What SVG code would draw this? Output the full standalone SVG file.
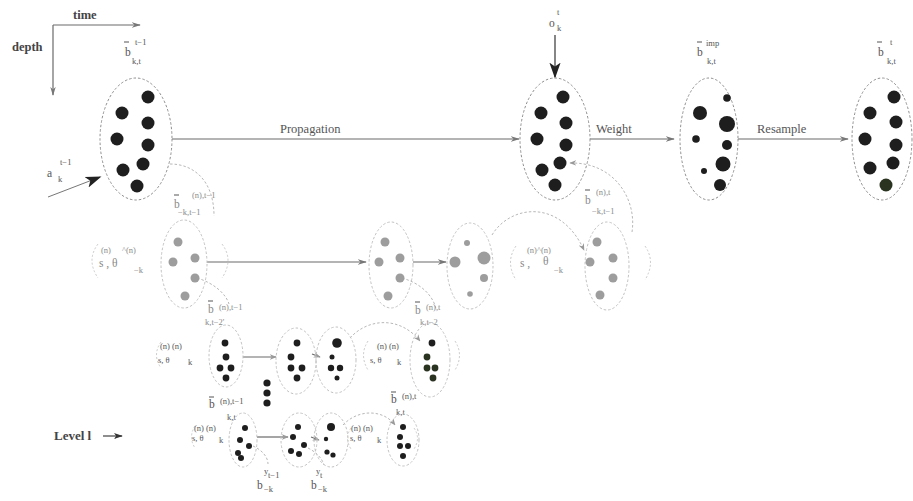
<svg xmlns="http://www.w3.org/2000/svg" width="913" height="501" viewBox="0 0 913 501">
  <defs>
    <style>
      text { font-family: "Liberation Serif", "DejaVu Serif", serif; fill: #555; }
      .lbl { font-size: 12.5px; fill: #555; }
      .sym { font-size: 11.5px; fill: #555; }
      .hi { font-size: 8.5px; fill: #555; }
      .lo { font-size: 8.5px; fill: #555; }
      .bold { font-weight: bold; fill: #444; }
      text.lite { fill: #8a8a8a; }
      .ell { fill: none; stroke: #8f8f8f; stroke-width: 1; stroke-dasharray: 2.5 2; }
      .ell2 { fill: none; stroke: #c2c2c2; stroke-width: 1; stroke-dasharray: 2.5 2; }
      .dot { fill: #1e1e1e; }
      .gdot { fill: #9d9d9d; }
      .gn { fill: #2a3320; }
      .ln { stroke: #6a6a6a; stroke-width: 1.2; fill: none; }
      .arc { stroke: #b8b8b8; stroke-width: 1; fill: none; stroke-dasharray: 2.5 2; }
      .brk { stroke: #cacaca; stroke-width: 1; fill: none; stroke-dasharray: 2 2; }
      .bar { stroke: #555; stroke-width: 1; }
    </style>
    <marker id="arr" viewBox="0 0 10 10" refX="9" refY="5" markerWidth="9" markerHeight="9" orient="auto" markerUnits="userSpaceOnUse">
      <path d="M0,2 L10,5 L0,8 L3,5 Z" fill="#777"/>
    </marker>
    <marker id="arrs" viewBox="0 0 10 10" refX="9" refY="5" markerWidth="7" markerHeight="7" orient="auto" markerUnits="userSpaceOnUse">
      <path d="M0,1 L10,5 L0,9 L3,5 Z" fill="#999"/>
    </marker>
    <marker id="big" viewBox="0 0 10 10" refX="9" refY="5" markerWidth="16" markerHeight="16" orient="auto" markerUnits="userSpaceOnUse">
      <path d="M0,1.5 L10,5 L0,8.5 L2.5,5 Z" fill="#222"/>
    </marker>
    <marker id="mid" viewBox="0 0 10 10" refX="9" refY="5" markerWidth="9" markerHeight="9" orient="auto" markerUnits="userSpaceOnUse">
      <path d="M0,1.5 L10,5 L0,8.5 L2.5,5 Z" fill="#333"/>
    </marker>
  </defs>
  <rect width="913" height="501" fill="#ffffff"/>

  <!-- axes -->
  <g id="axes">
    <path class="ln" d="M53,25 L140,25" marker-end="url(#arr)"/>
    <path class="ln" d="M53,25 L53,95" marker-end="url(#arr)"/>
    <text class="lbl bold" x="73" y="19">time</text>
    <text class="lbl bold" x="12" y="51">depth</text>
  </g>

  <!-- connectors -->
  <g id="connectors">
    <path class="ln" d="M172,139 L519,139" marker-end="url(#arr)"/>
    <path class="ln" d="M590,139 L674,139" marker-end="url(#arr)"/>
    <path class="ln" d="M738,139 L848,139" marker-end="url(#arr)"/>
    <path d="M555,35 L555,77" stroke="#444" stroke-width="1.3" marker-end="url(#big)"/>
    <path d="M48,197 L100,177" stroke="#777" stroke-width="1" marker-end="url(#big)"/>
    <path class="ln" d="M207,262 L366,262" marker-end="url(#arr)"/>
    <path class="ln" d="M413,262 L446,262" marker-end="url(#arr)"/>
    <path class="ln" d="M243,357 L276,357" marker-end="url(#arrs)"/>
    <path class="ln" d="M312,354 L320,357" marker-end="url(#arrs)"/>
    <path class="ln" d="M257,437 L288,437" marker-end="url(#arrs)"/>
    <path class="ln" d="M311,437 L319,440" marker-end="url(#arrs)"/>
    <!-- depth links -->
    <path class="arc" d="M170,164 C195,164 214,182 214,216"/>
    <path class="arc" d="M632,232 C637,200 615,162 570,163" marker-end="url(#arrs)"/>
    <path class="arc" d="M492,235 C510,205 560,198 584,250" marker-end="url(#arrs)"/>
    <path class="arc" d="M197,278 C214,283 226,294 229,304"/>
    <path class="arc" d="M402,278 C420,283 433,295 436,309"/>
    <path class="arc" d="M350,338 C368,318 400,316 420,341" marker-end="url(#arrs)"/>
    <path class="arc" d="M343,425 C358,409 383,409 395,425" marker-end="url(#arrs)"/>
    <path class="arc" d="M253,446 C262,450 268,457 268,464"/>
    <path class="arc" d="M308,448 C316,452 322,458 324,465"/>
  </g>

  <!-- top level -->
  <g id="n_prev">
    <ellipse class="ell" cx="136" cy="139" rx="36" ry="61"/>
    <circle class="dot" cx="148" cy="97" r="6.5"/>
    <circle class="dot" cx="122" cy="113" r="6.5"/>
    <circle class="dot" cx="148" cy="123" r="6.5"/>
    <circle class="dot" cx="117" cy="139" r="6.5"/>
    <circle class="dot" cx="148" cy="145" r="6.5"/>
    <circle class="dot" cx="123" cy="170" r="6.5"/>
    <circle class="dot" cx="143" cy="164" r="6.5"/>
    <circle class="dot" cx="137" cy="186" r="6.5"/>
    <line class="bar" x1="124" y1="42" x2="129" y2="42"/>
    <text class="sym" x="125" y="56">b</text>
    <text class="hi" x="135" y="45">t−1</text>
    <text class="lo" x="132" y="64">k,t</text>
    <text class="hi" x="60" y="165">t−1</text>
    <text class="sym" x="47" y="177">a</text>
    <text class="lo" x="58" y="182">k</text>
  </g>

  <g id="n_pred">
    <ellipse class="ell" cx="555" cy="139" rx="35" ry="61"/>
    <circle class="dot" cx="563" cy="97" r="6.5"/>
    <circle class="dot" cx="541" cy="113" r="6.5"/>
    <circle class="dot" cx="566" cy="123" r="6.5"/>
    <circle class="dot" cx="537" cy="139" r="6.5"/>
    <circle class="dot" cx="566" cy="145" r="6.5"/>
    <circle class="dot" cx="542" cy="170" r="6.5"/>
    <circle class="dot" cx="560" cy="163" r="6.5"/>
    <circle class="dot" cx="555" cy="185" r="6.5"/>
    <text class="hi" x="557" y="15">t</text>
    <text class="sym" x="549" y="27">o</text>
    <text class="lo" x="557" y="31">k</text>
    <text class="lbl" x="280" y="133">Propagation</text>
    <text class="lbl" x="596" y="133">Weight</text>
  </g>

  <g id="n_imp">
    <ellipse class="ell" cx="709" cy="139" rx="29" ry="61"/>
    <circle class="dot" cx="727" cy="98" r="3.8"/>
    <circle class="dot" cx="700" cy="113" r="7"/>
    <circle class="dot" cx="727" cy="124" r="8"/>
    <circle class="dot" cx="696" cy="139" r="3.8"/>
    <circle class="dot" cx="727" cy="145" r="5"/>
    <circle class="dot" cx="723" cy="164" r="7.5"/>
    <circle class="dot" cx="704" cy="171" r="3"/>
    <circle class="dot" cx="720" cy="185" r="6"/>
    <line class="bar" x1="697" y1="42" x2="702" y2="42"/>
    <text class="sym" x="697" y="56">b</text>
    <text class="hi" x="706" y="46">imp</text>
    <text class="lo" x="707" y="64">k,t</text>
    <text class="lbl" x="757" y="133">Resample</text>
  </g>

  <g id="n_post">
    <ellipse class="ell" cx="882" cy="139" rx="30" ry="61"/>
    <circle class="dot" cx="894" cy="97" r="6.5"/>
    <circle class="dot" cx="870" cy="113" r="6.5"/>
    <circle class="dot" cx="896" cy="122" r="6.5"/>
    <circle class="dot" cx="865" cy="139" r="6.5"/>
    <circle class="dot" cx="896" cy="145" r="6.5"/>
    <circle class="dot" cx="870" cy="168" r="6.5"/>
    <circle class="dot" cx="893" cy="163" r="6.5"/>
    <circle class="gn" cx="886" cy="185" r="6.5"/>
    <line class="bar" x1="877" y1="42" x2="882" y2="42"/>
    <text class="sym" x="878" y="56">b</text>
    <text class="hi" x="890" y="45">t</text>
    <text class="lo" x="887" y="64">k,t</text>
  </g>

  <!-- second level: beliefs about the other agents -->
  <g id="n_l1a">
    <path class="brk" d="M98,244 Q86,260 98,278"/>
    <path class="brk" d="M222,244 Q234,260 222,278"/>
    <text class="hi lite" x="101" y="253">(n)</text>
    <text class="hi lite" x="122" y="253">^(n)</text>
    <text class="sym lite" x="99" y="267">s ,  θ</text>
    <text class="lo lite" x="134" y="273">−k</text>
    <ellipse class="ell2" cx="184" cy="264" rx="23" ry="44"/>
    <circle class="gdot" cx="178" cy="242" r="4.5"/>
    <circle class="gdot" cx="173" cy="262" r="4.5"/>
    <circle class="gdot" cx="195" cy="258" r="4.5"/>
    <circle class="gdot" cx="195" cy="278" r="4.5"/>
    <circle class="gdot" cx="185" cy="296" r="4.5"/>
    <line class="bar" x1="174" y1="195" x2="179" y2="195"/>
    <text class="sym lite" x="174" y="208">b</text>
    <text class="hi lite" x="192" y="198">(n),t−1</text>
    <text class="lo lite" x="178" y="215">−k,t−1</text>
    <line class="bar" x1="208" y1="301" x2="213" y2="301"/>
    <text class="sym lite" x="208" y="313">b</text>
    <text class="hi lite" x="219" y="310">(n),t−1</text>
    <text class="lo lite" x="205" y="325">k,t−2'</text>
  </g>

  <g id="n_l1b">
    <ellipse class="ell2" cx="391" cy="265" rx="22" ry="43"/>
    <circle class="gdot" cx="385" cy="242" r="4.5"/>
    <circle class="gdot" cx="379" cy="262" r="4.5"/>
    <circle class="gdot" cx="400" cy="258" r="4.5"/>
    <circle class="gdot" cx="400" cy="278" r="4.5"/>
    <circle class="gdot" cx="388" cy="296" r="4.5"/>
    <line class="bar" x1="415" y1="302" x2="420" y2="302"/>
    <text class="sym lite" x="415" y="314">b</text>
    <text class="hi lite" x="426" y="310">(n),t</text>
    <text class="lo lite" x="420" y="325">k,t−2</text>
  </g>

  <g id="n_l1c">
    <ellipse class="ell2" cx="470" cy="266" rx="23" ry="43"/>
    <circle class="gdot" cx="467" cy="243" r="3"/>
    <circle class="gdot" cx="455" cy="262" r="5.5"/>
    <circle class="gdot" cx="484" cy="258" r="6.5"/>
    <circle class="gdot" cx="484" cy="278" r="4"/>
    <circle class="gdot" cx="470" cy="294" r="2.8"/>
  </g>

  <g id="n_l1d">
    <path class="brk" d="M516,246 Q505,262 516,280"/>
    <path class="brk" d="M645,246 Q656,262 645,280"/>
    <text class="hi lite" x="527" y="253">(n)^(n)</text>
    <text class="sym lite" x="520" y="267">s ,</text>
    <text class="sym lite" x="543" y="265">θ</text>
    <text class="lo lite" x="554" y="273">−k</text>
    <ellipse class="ell2" cx="607" cy="266" rx="22" ry="44"/>
    <circle class="gdot" cx="597" cy="242" r="4.5"/>
    <circle class="gdot" cx="590" cy="262" r="4.5"/>
    <circle class="gdot" cx="613" cy="258" r="4.5"/>
    <circle class="gdot" cx="613" cy="278" r="4.5"/>
    <circle class="gdot" cx="600" cy="295" r="4.5"/>
    <line class="bar" x1="585" y1="190" x2="590" y2="190"/>
    <text class="sym lite" x="585" y="204">b</text>
    <text class="hi lite" x="596" y="195">(n),t</text>
    <text class="lo lite" x="592" y="214">−k,t−1</text>
  </g>

  <!-- third level -->
  <g id="n_l2a">
    <path class="brk" d="M161,342 Q152,355 161,368"/>
    <text class="hi" x="160" y="349">(n) (n)</text>
    <text class="lo" x="158" y="363">s,  θ</text>
    <text class="lo" x="188" y="365">k</text>
    <ellipse class="ell2" cx="226" cy="356" rx="17" ry="31"/>
    <circle class="dot" cx="225" cy="343" r="3.4"/>
    <circle class="dot" cx="226" cy="357" r="3.4"/>
    <circle class="dot" cx="220" cy="368" r="3.4"/>
    <circle class="dot" cx="231" cy="368" r="3.4"/>
    <circle class="dot" cx="226" cy="378" r="3.4"/>
    <circle class="dot" cx="267" cy="383" r="3.6"/>
    <circle class="dot" cx="267" cy="393" r="3.6"/>
    <circle class="dot" cx="267" cy="403" r="3.6"/>
    <line class="bar" x1="209" y1="397" x2="214" y2="397"/>
    <text class="sym" x="209" y="408">b</text>
    <text class="hi" x="220" y="404">(n),t−1</text>
    <text class="lo" x="227" y="420">k,t</text>
  </g>

  <g id="n_l2b">
    <ellipse class="ell2" cx="296" cy="361" rx="20" ry="33"/>
    <circle class="dot" cx="297" cy="343" r="3.4"/>
    <circle class="dot" cx="291" cy="357" r="3.4"/>
    <circle class="dot" cx="291" cy="368" r="3.4"/>
    <circle class="dot" cx="302" cy="368" r="3.4"/>
    <circle class="dot" cx="297" cy="378" r="3.4"/>
  </g>

  <g id="n_l2c">
    <ellipse class="ell2" cx="336" cy="360" rx="20" ry="33"/>
    <circle class="dot" cx="337" cy="343" r="4.8"/>
    <circle class="dot" cx="332" cy="357" r="2.5"/>
    <circle class="dot" cx="331" cy="368" r="3.2"/>
    <circle class="dot" cx="340" cy="368" r="3.2"/>
    <circle class="dot" cx="337" cy="378" r="2.5"/>
  </g>

  <g id="n_l2d">
    <path class="brk" d="M368,341 Q359,355 368,370"/>
    <path class="brk" d="M455,341 Q464,355 455,370"/>
    <text class="hi" x="377" y="349">(n) (n)</text>
    <text class="lo" x="370" y="363">s,  θ</text>
    <text class="lo" x="397" y="365">k</text>
    <ellipse class="ell2" cx="430" cy="360" rx="20" ry="37"/>
    <circle class="dot" cx="432" cy="343" r="3.4"/>
    <circle class="gn" cx="427" cy="357" r="3.4"/>
    <circle class="gn" cx="427" cy="368" r="3.4"/>
    <circle class="gn" cx="435" cy="368" r="3.4"/>
    <circle class="gn" cx="433" cy="378" r="3.4"/>
    <line class="bar" x1="391" y1="392" x2="396" y2="392"/>
    <text class="sym" x="391" y="403">b</text>
    <text class="hi" x="402" y="399">(n),t</text>
    <text class="lo" x="396" y="415">k,t</text>
  </g>

  <!-- bottom level -->
  <g id="n_level">
    <text class="sym bold" x="54" y="440" style="font-size:13px">Level l</text>
    <path d="M103,436 L122,436" stroke="#444" stroke-width="1.2" marker-end="url(#mid)"/>
  </g>

  <g id="n_l3a">
    <path class="brk" d="M195,426 Q188,437 195,448"/>
    <text class="hi" x="194" y="431">(n) (n)</text>
    <text class="lo" x="192" y="441">s,  θ</text>
    <text class="lo" x="219" y="443">k</text>
    <ellipse class="ell2" cx="243" cy="440" rx="14" ry="27"/>
    <circle class="dot" cx="245" cy="428" r="3"/>
    <circle class="dot" cx="240" cy="440" r="3"/>
    <circle class="dot" cx="249" cy="446" r="3"/>
    <circle class="dot" cx="238" cy="453" r="3"/>
    <circle class="dot" cx="241" cy="458" r="3"/>
    <text class="lo" x="264" y="474">y</text>
    <text class="lo" x="268" y="478">t−1</text>
    <text class="sym" x="257" y="489">b</text>
    <text class="lo" x="264" y="492">−k</text>
  </g>

  <g id="n_l3b">
    <ellipse class="ell2" cx="299" cy="440" rx="18" ry="27"/>
    <circle class="dot" cx="298" cy="427" r="3"/>
    <circle class="dot" cx="293" cy="437" r="3"/>
    <circle class="dot" cx="304" cy="445" r="3"/>
    <circle class="dot" cx="291" cy="451" r="3"/>
    <circle class="dot" cx="299" cy="454" r="3"/>
    <text class="lo" x="316" y="474">y</text>
    <text class="lo" x="320" y="478">t</text>
    <text class="sym" x="311" y="489">b</text>
    <text class="lo" x="318" y="492">−k</text>
  </g>

  <g id="n_l3c">
    <ellipse class="ell2" cx="331" cy="440" rx="17" ry="27"/>
    <circle class="dot" cx="331" cy="427" r="4"/>
    <circle class="dot" cx="326" cy="439" r="2.2"/>
    <circle class="dot" cx="327" cy="452" r="2.6"/>
    <circle class="dot" cx="333" cy="455" r="2.6"/>
  </g>

  <g id="n_l3d">
    <path class="brk" d="M351,428 Q344,438 351,449"/>
    <path class="brk" d="M414,428 Q421,438 414,449"/>
    <text class="hi" x="351" y="431">(n) (n)</text>
    <text class="lo" x="350" y="441">s,  θ</text>
    <text class="lo" x="377" y="443">k</text>
    <ellipse class="ell2" cx="403" cy="440" rx="16" ry="26"/>
    <circle class="dot" cx="403" cy="427" r="3"/>
    <circle class="dot" cx="400" cy="437" r="3"/>
    <circle class="dot" cx="400" cy="446" r="3"/>
    <circle class="dot" cx="408" cy="446" r="3"/>
    <circle class="dot" cx="403" cy="456" r="3"/>
  </g>
</svg>
